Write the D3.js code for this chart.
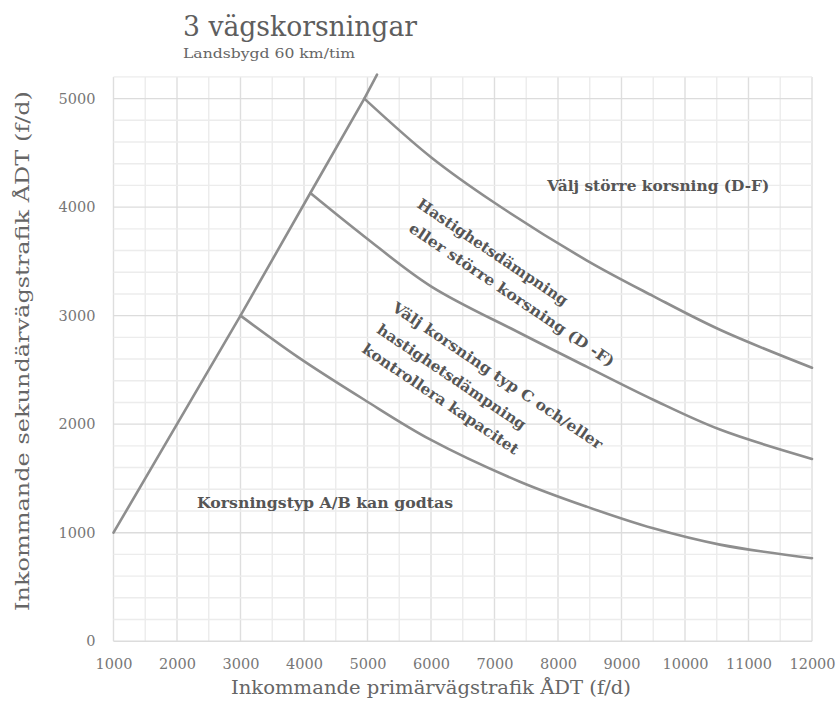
<!DOCTYPE html>
<html>
<head>
<meta charset="utf-8">
<script src="https://cdn.jsdelivr.net/npm/d3@7"></script>
<style>
  body { margin: 0; background: #fff; }
  svg { display: block; font-family: "DejaVu Serif", "Liberation Serif", serif; }
</style>
</head>
<body>
<div id="chart"></div>
<script>
var width = 840,
    height = 702;

// axis ticks
var xTicks = [1000, 2000, 3000, 4000, 5000, 6000, 7000, 8000, 9000, 10000, 11000, 12000];
var yTicks = [0, 1000, 2000, 3000, 4000, 5000];

// boundary lines [primär ÅDT, sekundär ÅDT]
var diagonal = [[1000, 1000], [3000, 3000], [4100, 4130], [4950, 5000], [5150, 5220]];
var upper = [[4950, 5000], [6000, 4460], [7000, 4040], [8450, 3510], [9500, 3180], [10550, 2870], [12000, 2520]];
var middle = [[4100, 4130], [4950, 3730], [6000, 3270], [7400, 2840], [8450, 2530], [9500, 2225], [10550, 1950], [12000, 1680]];
var lower = [[3000, 3000], [3900, 2620], [4950, 2225], [6000, 1855], [7400, 1470], [8450, 1240], [9500, 1040], [10550, 890], [12000, 765]];

var svg = d3.select("#chart")
    .append("svg")
    .attr("width", width)
    .attr("height", height);

var x = d3.scaleLinear().domain([1000, 12000]).range([113.5, 812]);
var y = d3.scaleLinear().domain([0, 5200]).range([641.2, 76.9]);

// grid
var grid = svg.append("g").attr("class", "grid");

grid.selectAll(".vline")
    .data(d3.range(1000, 12001, 500))
    .enter().append("line")
    .attr("x1", function(d) { return x(d); })
    .attr("x2", function(d) { return x(d); })
    .attr("y1", y(0))
    .attr("y2", y(5200))
    .attr("stroke", function(d) { return d % 1000 == 0 ? "#dedede" : "#ececec"; })
    .attr("stroke-width", 1.4);

grid.selectAll(".hline")
    .data(d3.range(0, 5201, 200))
    .enter().append("line")
    .attr("x1", x(1000))
    .attr("x2", x(12000))
    .attr("y1", function(d) { return y(d); })
    .attr("y2", function(d) { return y(d); })
    .attr("stroke", function(d) { return d % 1000 == 0 ? "#dcdcdc" : "#ececec"; })
    .attr("stroke-width", 1.4);

// axes
var xAxis = svg.append("g")
    .attr("transform", "translate(0," + y(0) + ")")
    .call(d3.axisBottom(x).tickValues(xTicks).tickFormat(d3.format("d")).tickSize(0).tickPadding(18));

var yAxis = svg.append("g")
    .attr("transform", "translate(" + x(1000) + ",0)")
    .call(d3.axisLeft(y).tickValues(yTicks).tickFormat(d3.format("d")).tickSize(0).tickPadding(18));

[xAxis, yAxis].forEach(function(a) {
  a.select(".domain").remove();
  a.selectAll("text")
    .style("font-family", "DejaVu Serif")
    .style("font-size", "14.5px")
    .attr("fill", "#777");
});

// curves
var straight = d3.line()
    .x(function(d) { return x(d[0]); })
    .y(function(d) { return y(d[1]); });

var smooth = d3.line()
    .x(function(d) { return x(d[0]); })
    .y(function(d) { return y(d[1]); })
    .curve(d3.curveCatmullRom.alpha(0.5));

svg.append("path")
    .attr("d", straight(diagonal))
    .attr("fill", "none")
    .attr("stroke", "#8e8e8e")
    .attr("stroke-width", 2.6)
    .attr("stroke-linecap", "round");

svg.selectAll(".boundary")
    .data([upper, middle, lower])
    .enter().append("path")
    .attr("class", "boundary")
    .attr("d", smooth)
    .attr("fill", "none")
    .attr("stroke", "#8e8e8e")
    .attr("stroke-width", 2.6)
    .attr("stroke-linecap", "round");

// titles
svg.append("text")
    .attr("x", 183).attr("y", 36)
    .attr("textLength", 234).attr("lengthAdjust", "spacingAndGlyphs")
    .style("font-size", "28px")
    .attr("fill", "#5e5e5e")
    .text("3 vägskorsningar");

svg.append("text")
    .attr("x", 183).attr("y", 58)
    .attr("textLength", 172).attr("lengthAdjust", "spacingAndGlyphs")
    .style("font-size", "13px")
    .attr("fill", "#666")
    .text("Landsbygd 60 km/tim");

svg.append("text")
    .attr("x", 431).attr("y", 694)
    .attr("text-anchor", "middle")
    .attr("textLength", 400).attr("lengthAdjust", "spacingAndGlyphs")
    .style("font-size", "19px")
    .attr("fill", "#666")
    .text("Inkommande primärvägstrafik ÅDT (f/d)");

svg.append("text")
    .attr("transform", "translate(29,351) rotate(-90)")
    .attr("text-anchor", "middle")
    .attr("textLength", 520).attr("lengthAdjust", "spacingAndGlyphs")
    .style("font-size", "19px")
    .attr("fill", "#666")
    .text("Inkommande sekundärvägstrafik ÅDT (f/d)");

// area annotations
function note(txt, px, py, angle, len) {
  svg.append("text")
    .attr("transform", "translate(" + x(px) + "," + y(py) + ") rotate(" + angle + ")")
    .attr("textLength", len).attr("lengthAdjust", "spacingAndGlyphs")
    .style("font-size", "15px")
    .style("font-weight", "bold")
    .attr("fill", "#555")
    .text(txt);
}

note("Välj större korsning (D-F)", 7830, 4150, 0, 222);
note("Korsningstyp A/B kan godtas", 2315, 1228, 0, 256);

note("Hastighetsdämpning", 5764, 4005, 34, 178);
note("eller  större  korsning (D -F)", 5635, 3782, 34, 244);

note("Välj korsning typ C och/eller", 5372, 3052, 34, 250);
note("hastighetsdämpning", 5131, 2850, 34, 176);
note("kontrollera kapacitet", 4899, 2669, 34, 185);
</script>
</body>
</html>
